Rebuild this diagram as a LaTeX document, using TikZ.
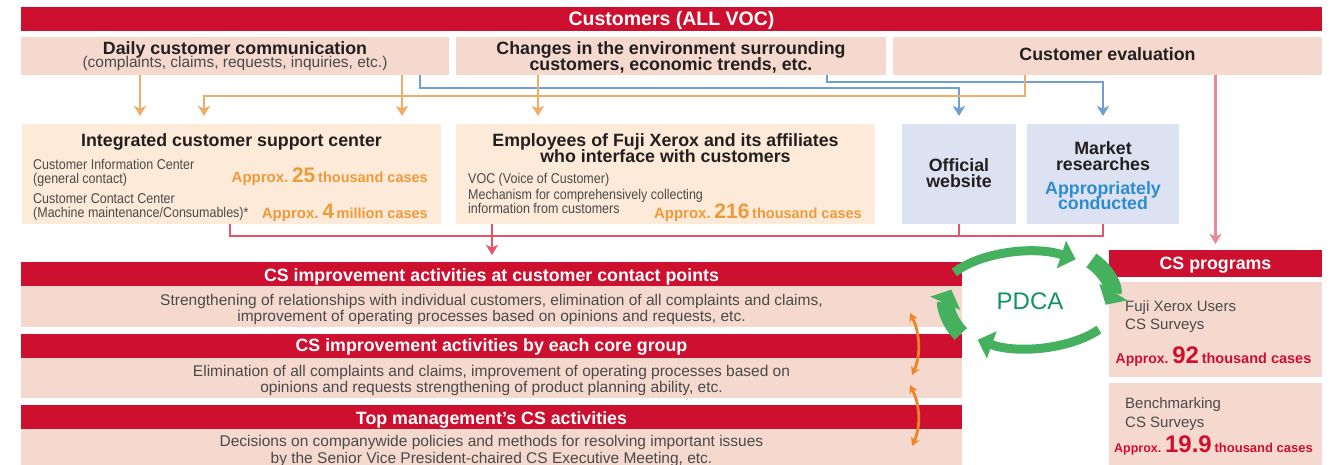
\documentclass[tikz,border=0pt]{standalone}
\usepackage{fontspec}
\setmainfont{Liberation Sans}
\newfontfamily\narrowfont[FakeStretch=0.88]{Liberation Sans}
\usetikzlibrary{arrows.meta}

\definecolor{csred}{HTML}{CE1030}
\definecolor{cspink}{HTML}{F6D9CE}
\definecolor{cspeach}{HTML}{FDEAD8}
\definecolor{csblue}{HTML}{DCE2F1}
\definecolor{ink}{HTML}{231F20}
\definecolor{inkgray}{HTML}{4A4A4A}
\definecolor{vocorange}{HTML}{EFAE68}
\definecolor{numorange}{HTML}{EE9A3B}
\definecolor{vocblue}{HTML}{6F9FD4}
\definecolor{textblue}{HTML}{2D8CCB}
\definecolor{linkred}{HTML}{E8556B}
\definecolor{linkpink}{HTML}{E98898}
\definecolor{pdcagreen}{HTML}{45B15E}
\definecolor{pdcatext}{HTML}{11935F}
\definecolor{cycleorange}{HTML}{EF8426}

\newcommand\titlefont{\fontsize{19.5}{22}\selectfont\bfseries}
\newcommand\headfont{\fontsize{17.8}{20}\selectfont\bfseries}
\newcommand\bodyfont{\fontsize{15.5}{17}\selectfont}
\newcommand\notefont{\narrowfont\fontsize{14.2}{16}\selectfont}
\newcommand\casecount[5]{{\fontsize{#1}{16}\selectfont Approx.} {\fontsize{#2}{24}\selectfont #3} {\fontsize{#4}{16}\selectfont #5}}

\tikzset{
  box/.style={inner sep=0pt, outer sep=0pt},
  redbar/.style={box, fill=csred, minimum height=24},
  pinkbox/.style={box, fill=cspink},
  peachbox/.style={box, fill=cspeach, minimum height=100},
  bluebox/.style={box, fill=csblue, minimum height=100},
  txt/.style={inner sep=0pt, anchor=base, text=ink},
  head/.style={txt, font=\headfont},
  barhead/.style={txt, text=white, font=\headfont},
  body/.style={txt, text=inkgray, font=\bodyfont},
  note/.style={txt, anchor=base west, text=inkgray, font=\notefont},
  survey/.style={txt, anchor=base west, text=inkgray, font=\fontsize{15}{17}\selectfont},
  orangelink/.style={draw=vocorange, line width=2.5pt},
  bluelink/.style={draw=vocblue, line width=2.5pt},
  redlink/.style={draw=linkred, line width=2.5pt},
  arrowhead/.style={-{Stealth[length=10pt,width=12pt,inset=2.5pt]}, shorten >=8pt},
  pdcathin/.style={draw=pdcagreen, line width=9pt, -{Triangle[length=15pt,width=28pt]}},
  pdcathick/.style={draw=pdcagreen, line width=17pt, -{Triangle[length=15pt,width=32pt]}},
  updown/.style={draw=cycleorange, line width=2.8pt,
    {Stealth[length=8pt,width=9pt,inset=2pt]}-{Stealth[length=8pt,width=9pt,inset=2pt]}}
}

\begin{document}
\begin{tikzpicture}[x=1pt, y=-1pt]
  \useasboundingbox[fill=white] (0,0) rectangle (1338,465);

  % customers and their voices
  \node[redbar, minimum width=1301] (voc) at (671.5,19) {};
  \node[txt, text=white, font=\titlefont] (voct) at (671.5,26) {Customers (ALL VOC)};
  \node[pinkbox, minimum width=428, minimum height=38] (daily) at (235,56) {};
  \node[head] (dailyt) at (235,54.5) {Daily customer communication};
  \node[body] (dailys) at (235,68) {(complaints, claims, requests, inquiries, etc.)};
  \node[pinkbox, minimum width=430, minimum height=38] (changes) at (671,56) {};
  \node[head] (changest) at (671,54.3) {Changes in the environment surrounding};
  \node[head] (changess) at (671,71) {customers, economic trends, etc.};
  \node[pinkbox, minimum width=429, minimum height=38] (eval) at (1107.5,56) {};
  \node[head] (evalt) at (1107.5,61) {Customer evaluation};

  % channels
  \node[peachbox, minimum width=419] (ics) at (231.5,174) {};
  \node[head] (icst) at (231.5,146.7) {Integrated customer support center};
  \node[note] (ics1) at (33,169.3) {Customer Information Center};
  \node[note] (ics2) at (33,183.3) {(general contact)};
  \node[note] (ics3) at (33,203.3) {Customer Contact Center};
  \node[note] (ics4) at (33,217.3) {(Machine maintenance/Consumables)*};
  \node[txt, anchor=base east, text=numorange, font=\bfseries] (icsn1) at (428,182.7)
    {\casecount{15}{21}{25}{14.5}{thousand cases}};
  \node[txt, anchor=base east, text=numorange, font=\bfseries] (icsn2) at (428,218.3)
    {\casecount{15}{21}{4}{14.5}{million cases}};

  \node[peachbox, minimum width=419] (emp) at (665.5,174) {};
  \node[head] (empt) at (665.5,146.7) {Employees of Fuji Xerox and its affiliates};
  \node[head] (emps) at (665.5,162.7) {who interface with customers};
  \node[note] (emp1) at (468,183.3) {VOC (Voice of Customer)};
  \node[note] (emp2) at (468,199.3) {Mechanism for comprehensively collecting};
  \node[note] (emp3) at (468,213.3) {information from customers};
  \node[txt, anchor=base east, text=numorange, font=\bfseries] (empn) at (862,218.3)
    {\casecount{15}{21}{216}{14.5}{thousand cases}};

  \node[bluebox, minimum width=114] (web) at (959,174) {};
  \node[head] (webt) at (959,171.7) {Official};
  \node[head] (webs) at (959,187.7) {website};
  \node[bluebox, minimum width=152] (mkt) at (1103,174) {};
  \node[head] (mktt) at (1103,155) {Market};
  \node[head] (mkts) at (1103,170.7) {researches};
  \node[head, text=textblue] (mkt1) at (1103,194.3) {Appropriately};
  \node[head, text=textblue] (mkt2) at (1103,210) {conducted};

  % improvement activities
  \node[redbar, minimum width=941] (bar1) at (491.5,274) {};
  \node[barhead] (bar1t) at (491.5,281.7) {CS improvement activities at customer contact points};
  \node[pinkbox, minimum width=941, minimum height=41] (act1) at (491.5,306.5) {};
  \node[body] (act1a) at (491.5,305.7) {Strengthening of relationships with individual customers, elimination of all complaints and claims,};
  \node[body] (act1b) at (491.5,321) {improvement of operating processes based on opinions and requests, etc.};
  \node[redbar, minimum width=941] (bar2) at (491.5,346) {};
  \node[barhead] (bar2t) at (491.5,351.7) {CS improvement activities by each core group};
  \node[pinkbox, minimum width=941, minimum height=40] (act2) at (491.5,378) {};
  \node[body] (act2a) at (491.5,376) {Elimination of all complaints and claims, improvement of operating processes based on};
  \node[body] (act2b) at (491.5,392.7) {opinions and requests strengthening of product planning ability, etc.};
  \node[redbar, minimum width=941] (bar3) at (491.5,417) {};
  \node[barhead] (bar3t) at (491.5,424) {Top management’s CS activities};
  \node[pinkbox, minimum width=941, minimum height=36] (act3) at (491.5,447) {};
  \node[body] (act3a) at (491.5,446.7) {Decisions on companywide policies and methods for resolving important issues};
  \node[body] (act3b) at (491.5,463) {by the Senior Vice President-chaired CS Executive Meeting, etc.};

  % CS programs
  \node[box, fill=csred, minimum width=213, minimum height=27] (prog) at (1215.5,263.5) {};
  \node[barhead] (progt) at (1215.5,269.3) {CS programs};
  \node[pinkbox, minimum width=213, minimum height=95] (users) at (1215.5,329.5) {};
  \node[survey] (users1) at (1125,311) {Fuji Xerox Users};
  \node[survey] (users2) at (1125,329.3) {CS Surveys};
  \node[txt, text=csred, font=\bfseries] (usersn) at (1213.5,363.3)
    {\casecount{14}{24}{92}{14.5}{thousand cases}};
  \node[pinkbox, minimum width=213, minimum height=82] (bench) at (1215.5,424) {};
  \node[survey] (bench1) at (1125,408.3) {Benchmarking};
  \node[survey] (bench2) at (1125,427.7) {CS Surveys};
  \node[txt, text=csred, font=\bfseries] (benchn) at (1213.5,452.7)
    {\casecount{12.5}{24}{19.9}{13}{thousand cases}};

  % columns and levels of the connectors
  \coordinate (xa) at (140,0);
  \coordinate (xb) at (402,0);
  \coordinate (xc) at (420,0);
  \coordinate (xd) at (204,0);
  \coordinate (xe) at (1025,0);
  \coordinate (xf) at (538,0);
  \coordinate (xg) at (827,0);
  \coordinate (xh) at (230,0);
  \coordinate (xi) at (492,0);
  \coordinate (yb2) at (0,82);
  \coordinate (yb1) at (0,88);
  \coordinate (yo) at (0,96);
  \coordinate (yr) at (0,236);

  \draw[bluelink, arrowhead] (daily.south -| xc) |- (yb1 -| web.north) -- (web.north);
  \draw[bluelink, arrowhead] (changes.south -| xg) |- (yb2 -| mkt.north) -- (mkt.north);
  \draw[orangelink, arrowhead] (daily.south -| xa) -- (ics.north -| xa);
  \draw[orangelink, arrowhead] (daily.south -| xb) -- (ics.north -| xb);
  \draw[orangelink, arrowhead] (eval.south -| xe) |- (yo -| xd) -- (ics.north -| xd);
  \draw[orangelink, arrowhead] (changes.south -| xf) -- (emp.north -| xf);
  \draw[redlink] (ics.south -| xh) |- (yr -| mkt.south) -- (mkt.south);
  \draw[redlink] (web.south) -- (yr -| web.south);
  \draw[redlink, arrowhead, shorten >=7pt] (emp.south -| xi) -- (bar1.north -| xi);
  \draw[draw=linkpink, line width=2.5pt, arrowhead, shorten >=6pt] (eval.south -| prog.north) -- (prog.north);

  % PDCA cycle
  \coordinate (pc) at (1028,300);
  \coordinate (pr) at (1022,290);
  \coordinate (pl) at (1003,305);
  \draw[pdcathin] ([shift={(215:90 and 48)}]pc) arc[start angle=215, end angle=302, x radius=90, y radius=48];
  \draw[pdcathick] ([shift={(322:88 and 48)}]pr) arc[start angle=322, end angle=378, x radius=88, y radius=48];
  \draw[pdcathin] ([shift={(38:90 and 48)}]pc) arc[start angle=38, end angle=124, x radius=90, y radius=48];
  \draw[pdcathick] ([shift={(140:55 and 45)}]pl) arc[start angle=140, end angle=200, x radius=55, y radius=45];
  \node[txt, text=pdcatext, font=\fontsize{24}{26}\selectfont] (pdca) at (1030,309) {PDCA};

  % links between the levels
  \coordinate (c1a) at (910,313);
  \coordinate (c1b) at (912,375);
  \coordinate (c2a) at (910,385);
  \coordinate (c2b) at (912,446);
  \draw[updown] (c1a) .. controls +(10,20) and +(9,-20) .. (c1b);
  \draw[updown] (c2a) .. controls +(10,20) and +(9,-20) .. (c2b);
\end{tikzpicture}
\end{document}
